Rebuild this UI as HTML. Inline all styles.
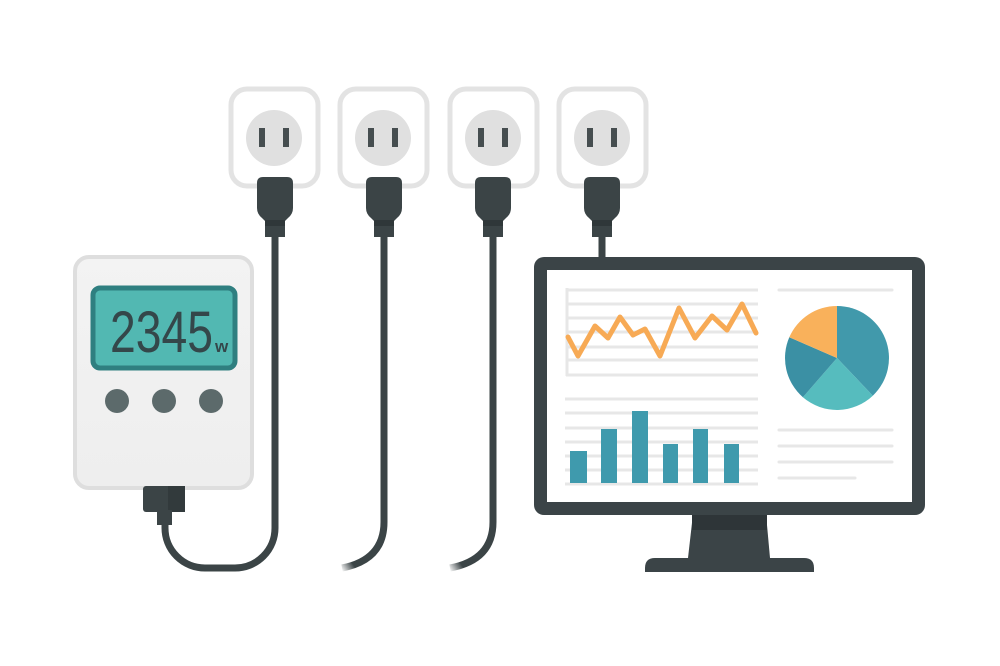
<!DOCTYPE html>
<html>
<head>
<meta charset="utf-8">
<style>
  html,body{margin:0;padding:0;background:#ffffff;}
  body{width:1000px;height:666px;overflow:hidden;}
  svg{display:block;}
</style>
</head>
<body>
<svg width="1000" height="666" viewBox="0 0 1000 666" xmlns="http://www.w3.org/2000/svg">
  <defs>
    <linearGradient id="fade2" gradientUnits="userSpaceOnUse" x1="384" y1="540" x2="340" y2="568">
      <stop offset="0" stop-color="#3b4446"/>
      <stop offset="0.75" stop-color="#3b4446"/>
      <stop offset="1" stop-color="#3b4446" stop-opacity="0"/>
    </linearGradient>
    <linearGradient id="fade3" gradientUnits="userSpaceOnUse" x1="493" y1="540" x2="448" y2="568">
      <stop offset="0" stop-color="#3b4446"/>
      <stop offset="0.75" stop-color="#3b4446"/>
      <stop offset="1" stop-color="#3b4446" stop-opacity="0"/>
    </linearGradient>
    <linearGradient id="meterFill" x1="0" y1="0" x2="0" y2="1">
      <stop offset="0" stop-color="#f3f3f3"/>
      <stop offset="1" stop-color="#eeeeee"/>
    </linearGradient>
  </defs>

  <!-- Outlets -->
  <g>
    <rect x="231" y="89" width="87" height="97" rx="16" fill="#ffffff" stroke="#e3e3e3" stroke-width="5"/>
    <circle cx="274" cy="138" r="28" fill="#e0e0e0"/>
    <rect x="259" y="128" width="6" height="19" fill="#464e50"/>
    <rect x="283" y="128" width="6" height="19" fill="#464e50"/>

    <rect x="340" y="89" width="87" height="97" rx="16" fill="#ffffff" stroke="#e3e3e3" stroke-width="5"/>
    <circle cx="383" cy="138" r="28" fill="#e0e0e0"/>
    <rect x="368" y="128" width="6" height="19" fill="#464e50"/>
    <rect x="392" y="128" width="6" height="19" fill="#464e50"/>

    <rect x="450" y="89" width="87" height="97" rx="16" fill="#ffffff" stroke="#e3e3e3" stroke-width="5"/>
    <circle cx="493" cy="138" r="28" fill="#e0e0e0"/>
    <rect x="478" y="128" width="6" height="19" fill="#464e50"/>
    <rect x="502" y="128" width="6" height="19" fill="#464e50"/>

    <rect x="559" y="89" width="87" height="97" rx="16" fill="#ffffff" stroke="#e3e3e3" stroke-width="5"/>
    <circle cx="602" cy="138" r="28" fill="#e0e0e0"/>
    <rect x="587" y="128" width="6" height="19" fill="#464e50"/>
    <rect x="611" y="128" width="6" height="19" fill="#464e50"/>
  </g>

  <!-- Cables -->
  <g fill="none" stroke-width="7" stroke-linecap="butt">
    <path d="M275,236 V528 A40,40 0 0 1 235,568 H205 A40,40 0 0 1 165,528 V522" stroke="#3b4446"/>
    <path d="M384,236 V522 Q384,560 342,568" stroke="url(#fade2)"/>
    <path d="M493,236 V522 Q493,560 450,568" stroke="url(#fade3)"/>
    <path d="M602,236 V260" stroke="#3b4446"/>
  </g>

  <!-- Plugs -->
  <g id="plugs">
    <g transform="translate(0,0)">
      <path d="M257,183 Q257,177 263,177 L287,177 Q293,177 293,183 L293,208 Q293,214 288,218 L284,222 L266,222 L262,218 Q257,214 257,208 Z" fill="#3b4446"/>
      <rect x="265" y="220" width="20" height="17" fill="#3b4446"/>
      <rect x="265" y="220" width="20" height="6" fill="#2f3739"/>
    </g>
    <g transform="translate(109,0)">
      <path d="M257,183 Q257,177 263,177 L287,177 Q293,177 293,183 L293,208 Q293,214 288,218 L284,222 L266,222 L262,218 Q257,214 257,208 Z" fill="#3b4446"/>
      <rect x="265" y="220" width="20" height="17" fill="#3b4446"/>
      <rect x="265" y="220" width="20" height="6" fill="#2f3739"/>
    </g>
    <g transform="translate(218,0)">
      <path d="M257,183 Q257,177 263,177 L287,177 Q293,177 293,183 L293,208 Q293,214 288,218 L284,222 L266,222 L262,218 Q257,214 257,208 Z" fill="#3b4446"/>
      <rect x="265" y="220" width="20" height="17" fill="#3b4446"/>
      <rect x="265" y="220" width="20" height="6" fill="#2f3739"/>
    </g>
    <g transform="translate(327,0)">
      <path d="M257,183 Q257,177 263,177 L287,177 Q293,177 293,183 L293,208 Q293,214 288,218 L284,222 L266,222 L262,218 Q257,214 257,208 Z" fill="#3b4446"/>
      <rect x="265" y="220" width="20" height="17" fill="#3b4446"/>
      <rect x="265" y="220" width="20" height="6" fill="#2f3739"/>
    </g>
  </g>

  <!-- Power meter -->
  <g>
    <rect x="75" y="257" width="177" height="231" rx="14" fill="url(#meterFill)" stroke="#dedede" stroke-width="4"/>
    <rect x="93" y="288" width="142" height="80" rx="7" fill="#52b8b2" stroke="#2f7f80" stroke-width="5"/>
    <text x="110" y="352" font-family="Liberation Sans, sans-serif" font-size="58" textLength="103" lengthAdjust="spacingAndGlyphs" fill="#34474a">2345</text>
    <text x="215" y="352" font-family="Liberation Sans, sans-serif" font-size="17" font-weight="bold" fill="#34474a">w</text>
    <circle cx="117" cy="401" r="12" fill="#5c6a6b"/>
    <circle cx="164" cy="401" r="12" fill="#5c6a6b"/>
    <circle cx="211" cy="401" r="12" fill="#5c6a6b"/>
    <!-- bottom plug -->
    <rect x="143" y="486" width="42" height="26" rx="3" fill="#3b4446"/>
    <rect x="168" y="486" width="17" height="26" fill="#323a3c"/>
    <rect x="157" y="510" width="15" height="15" fill="#3b4446"/>
  </g>

  <!-- Monitor -->
  <g>
    <path d="M693,514 L766,514 L770,558 L688,558 Z" fill="#3b4447"/>
    <rect x="692" y="514" width="75" height="16" fill="#2e3538"/>
    <path d="M655,558 H804 Q814,558 814,568 V572 H645 V568 Q645,558 655,558 Z" fill="#3b4447"/>
    <rect x="534" y="257" width="391" height="258" rx="10" fill="#3b4447"/>
    <rect x="547" y="270" width="365" height="232" fill="#ffffff"/>

    <!-- line chart grid -->
    <g stroke="#e7e7e7" stroke-width="3">
      <line x1="566" y1="290" x2="758" y2="290"/>
      <line x1="566" y1="304" x2="758" y2="304"/>
      <line x1="566" y1="318" x2="758" y2="318"/>
      <line x1="566" y1="332" x2="758" y2="332"/>
      <line x1="566" y1="347" x2="758" y2="347"/>
      <line x1="566" y1="360" x2="758" y2="360"/>
      <line x1="566" y1="375" x2="758" y2="375"/>
      <line x1="567" y1="288" x2="567" y2="376"/>
    </g>
    <polyline points="568,337 578,356 595,326 608,338 620,317 633,335 645,329 660,356 679,308 695,338 712,316 727,330 742,304 756,333" fill="none" stroke="#f7aa55" stroke-width="5" stroke-linejoin="round" stroke-linecap="round"/>

    <!-- bar chart grid -->
    <g stroke="#e7e7e7" stroke-width="3">
      <line x1="565" y1="399" x2="758" y2="399"/>
      <line x1="565" y1="413" x2="758" y2="413"/>
      <line x1="565" y1="428" x2="758" y2="428"/>
      <line x1="565" y1="442" x2="758" y2="442"/>
      <line x1="565" y1="456" x2="758" y2="456"/>
      <line x1="565" y1="470" x2="758" y2="470"/>
      <line x1="565" y1="484" x2="758" y2="484"/>
    </g>
    <g fill="#3f9aad">
      <rect x="570" y="451" width="17" height="32"/>
      <rect x="601" y="429" width="16" height="54"/>
      <rect x="632" y="411" width="16" height="72"/>
      <rect x="663" y="444" width="15" height="39"/>
      <rect x="693" y="429" width="15" height="54"/>
      <rect x="724" y="444" width="15" height="39"/>
    </g>

    <!-- right panel -->
    <g stroke="#e7e7e7" stroke-width="3" stroke-linecap="round">
      <line x1="779" y1="290" x2="892" y2="290"/>
      <line x1="779" y1="430" x2="892" y2="430"/>
      <line x1="779" y1="446" x2="892" y2="446"/>
      <line x1="779" y1="462" x2="892" y2="462"/>
      <line x1="779" y1="478" x2="855" y2="478"/>
    </g>
    <!-- pie -->
    <path d="M837,358 L837,306 A52,52 0 0 1 872.8,395.7 Z" fill="#4199ab"/>
    <path d="M837,358 L872.8,395.7 A52,52 0 0 1 802.9,397.2 Z" fill="#56bcbe"/>
    <path d="M837,358 L802.9,397.2 A52,52 0 0 1 789.3,337.3 Z" fill="#3b90a4"/>
    <path d="M837,358 L789.3,337.3 A52,52 0 0 1 837,306 Z" fill="#f9b15b"/>
  </g>
</svg>
</body>
</html>
